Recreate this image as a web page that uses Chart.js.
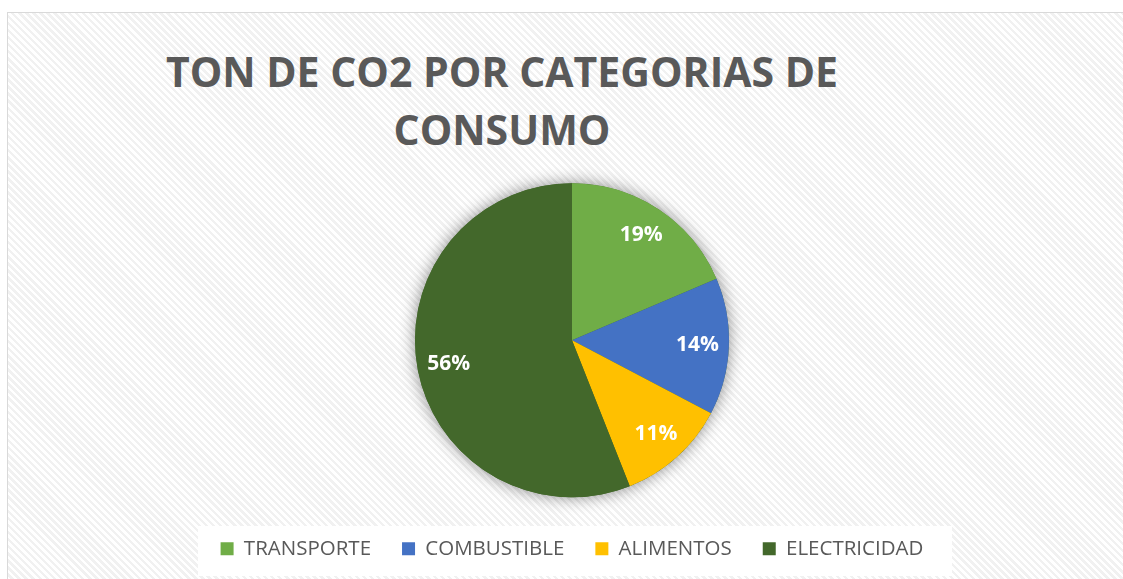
<!DOCTYPE html>
<html lang="es">
<head>
<meta charset="utf-8">
<title>TON DE CO2 POR CATEGORIAS DE CONSUMO</title>
<script src="https://cdn.jsdelivr.net/npm/chart.js@4.4.3/dist/chart.umd.min.js"></script>
<style>
  *{box-sizing:border-box;margin:0;padding:0}
  body{width:1123px;height:579px;overflow:hidden;background:#fff;position:relative;font-family:"Open Sans",sans-serif}
  .frame{position:absolute;left:7px;top:12px;width:1130px;height:590px;border:1px solid #d9d9d9;
    background:repeating-linear-gradient(45deg,#ffffff 0 2.5px,#f1f1f1 2.5px 5px)}
  .legend-bg{position:absolute;left:198px;top:526px;width:754px;height:50px;background:#fff}
  .title{position:absolute;left:0;top:42px;width:1004px;text-align:center;color:#595959;
    font-weight:700;font-size:41px;line-height:58px}
  .wrap{position:absolute;left:0;top:0;width:1123px;height:579px}
</style>
</head>
<body>
<div class="frame"></div>
<div class="legend-bg"></div>
<div class="title">TON DE CO2 POR CATEGORIAS DE<br>CONSUMO</div>
<div class="wrap"><canvas id="pie"></canvas></div>
<script>
const categories = ['TRANSPORTE', 'COMBUSTIBLE', 'ALIMENTOS', 'ELECTRICIDAD']
const shares = [18.6, 14.1, 11.3, 56.0]
const colors = ['#70AD47', '#4472C4', '#FFC000', '#43682B']

// soft shadow under the pie, drawn once so slices don't shade each other
const pieShadow = {
  id: 'pieShadow',
  beforeDatasetsDraw(chart) {
    const arc = chart.getDatasetMeta(0).data[0]
    if (!arc) return
    const { x, y, outerRadius } = arc.getProps(['x', 'y', 'outerRadius'], true)
    const ctx = chart.ctx
    ctx.save()
    ctx.shadowColor = 'rgba(0,0,0,0.45)'
    ctx.shadowBlur = 16
    ctx.beginPath()
    ctx.arc(x, y, outerRadius, 0, Math.PI * 2)
    ctx.fillStyle = '#43682B'
    ctx.fill()
    ctx.restore()
  }
}

// percentage labels inside each slice
const pctLabels = {
  id: 'pctLabels',
  afterDatasetsDraw(chart) {
    const ctx = chart.ctx
    const data = chart.data.datasets[0].data
    const total = data.reduce((a, b) => a + b, 0)
    ctx.save()
    ctx.font = 'bold 21px "Open Sans", sans-serif'
    ctx.fillStyle = '#ffffff'
    ctx.textAlign = 'center'
    ctx.textBaseline = 'middle'
    chart.getDatasetMeta(0).data.forEach((arc, i) => {
      const p = arc.getProps(['x', 'y', 'startAngle', 'endAngle', 'outerRadius'], true)
      const mid = (p.startAngle + p.endAngle) / 2
      const r = p.outerRadius * 0.8
      ctx.fillText(Math.round(data[i] / total * 100) + '%', p.x + Math.cos(mid) * r, p.y + Math.sin(mid) * r)
    })
    ctx.restore()
  }
}

new Chart(document.getElementById('pie'), {
  type: 'pie',
  data: {
    labels: categories,
    datasets: [{
      data: shares,
      backgroundColor: colors,
      borderWidth: 0,
      radius: 157
    }]
  },
  options: {
    responsive: true,
    maintainAspectRatio: false,
    animation: false,
    layout: { padding: { left: 21, right: 0, top: 173, bottom: 10 } },
    plugins: {
      title: { display: false },
      tooltip: { enabled: false },
      legend: {
        position: 'bottom',
        labels: {
          color: '#595959',
          font: { family: '"Open Sans", sans-serif', size: 20.5 },
          boxWidth: 13,
          boxHeight: 13,
          padding: 31
        }
      }
    }
  },
  plugins: [pieShadow, pctLabels]
})
</script>
</body>
</html>
